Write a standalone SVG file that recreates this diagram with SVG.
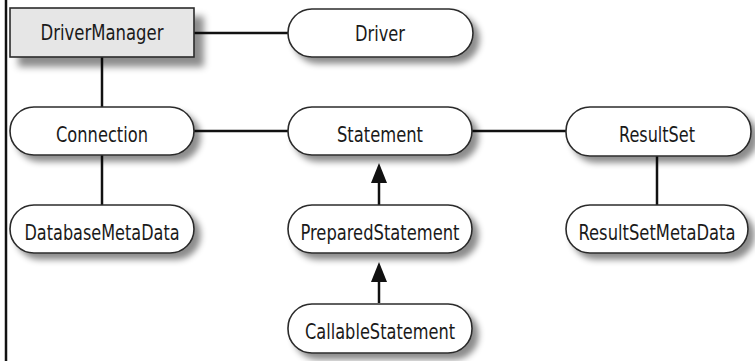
<svg xmlns="http://www.w3.org/2000/svg" width="755" height="361" viewBox="0 0 755 361">
<style>
.pill{fill:#fff;stroke:#2b2b2b;stroke-width:1.6;filter:url(#sh)}
.box{fill:#e6e6e6;stroke:#2b2b2b;stroke-width:1.6;filter:url(#sh2)}
.t{font-family:"DejaVu Sans Condensed","DejaVu Sans",sans-serif;font-size:21px;fill:#1a1a1a;text-anchor:middle}
.c{stroke:#111;stroke-width:2.5;fill:none}
.ah{fill:#111}
</style>
<defs>
<filter id="sh" x="-10%" y="-30%" width="130%" height="180%">
<feDropShadow dx="6" dy="6" stdDeviation="3" flood-color="#000" flood-opacity="0.45"/>
</filter>
<filter id="sh2" x="-10%" y="-30%" width="130%" height="180%">
<feDropShadow dx="9" dy="9" stdDeviation="3.5" flood-color="#000" flood-opacity="0.45"/>
</filter>
</defs>
<rect x="0" y="0" width="755" height="361" fill="#fff"/>
<line x1="6" y1="0" x2="6" y2="361" stroke="#111" stroke-width="2.5"/>
<g id="connectors">
<line class="c" x1="194" y1="33" x2="288" y2="33"/>
<line class="c" x1="102" y1="57" x2="102" y2="107"/>
<line class="c" x1="194" y1="131" x2="288" y2="131"/>
<line class="c" x1="472" y1="131" x2="566" y2="131"/>
<line class="c" x1="102" y1="155" x2="102" y2="205"/>
<line class="c" x1="657" y1="155" x2="657" y2="205"/>
<line class="c" x1="379" y1="182" x2="379" y2="205"/>
<polygon class="ah" points="379,163 371,183 387,183"/>
<line class="c" x1="379" y1="281" x2="379" y2="303"/>
<polygon class="ah" points="379,262 371,282 387,282"/>
</g>
<g id="DriverManager">
<rect class="box" x="10" y="8" width="184" height="49"/>
<text class="t" transform="translate(102,40) scale(0.85,1)" textLength="144.7" lengthAdjust="spacingAndGlyphs">DriverManager</text>
</g>
<g id="Driver">
<rect class="pill" x="288" y="9" width="185" height="48" rx="24"/>
<text class="t" transform="translate(380,41) scale(0.85,1)" textLength="58.8" lengthAdjust="spacingAndGlyphs">Driver</text>
</g>
<g id="Connection">
<rect class="pill" x="10" y="107" width="184" height="48" rx="24"/>
<text class="t" transform="translate(102,142) scale(0.85,1)" textLength="108.2" lengthAdjust="spacingAndGlyphs">Connection</text>
</g>
<g id="Statement">
<rect class="pill" x="288" y="107" width="184" height="48" rx="24"/>
<text class="t" transform="translate(380,142) scale(0.85,1)" textLength="101.2" lengthAdjust="spacingAndGlyphs">Statement</text>
</g>
<g id="ResultSet">
<rect class="pill" x="566" y="107" width="185" height="49" rx="24"/>
<text class="t" transform="translate(657,142) scale(0.85,1)" textLength="89.4" lengthAdjust="spacingAndGlyphs">ResultSet</text>
</g>
<g id="DatabaseMetaData">
<rect class="pill" x="10" y="205" width="184" height="48" rx="24"/>
<text class="t" transform="translate(102,240) scale(0.85,1)" textLength="182.4" lengthAdjust="spacingAndGlyphs">DatabaseMetaData</text>
</g>
<g id="PreparedStatement">
<rect class="pill" x="288" y="205" width="184" height="48" rx="24"/>
<text class="t" transform="translate(380,240) scale(0.85,1)" textLength="187.1" lengthAdjust="spacingAndGlyphs">PreparedStatement</text>
</g>
<g id="ResultSetMetaData">
<rect class="pill" x="566" y="205" width="182" height="48" rx="24"/>
<text class="t" transform="translate(657,240) scale(0.85,1)" textLength="184.7" lengthAdjust="spacingAndGlyphs">ResultSetMetaData</text>
</g>
<g id="CallableStatement">
<rect class="pill" x="288" y="304" width="184" height="49" rx="24"/>
<text class="t" transform="translate(380,339) scale(0.85,1)" textLength="176.5" lengthAdjust="spacingAndGlyphs">CallableStatement</text>
</g>
</svg>
